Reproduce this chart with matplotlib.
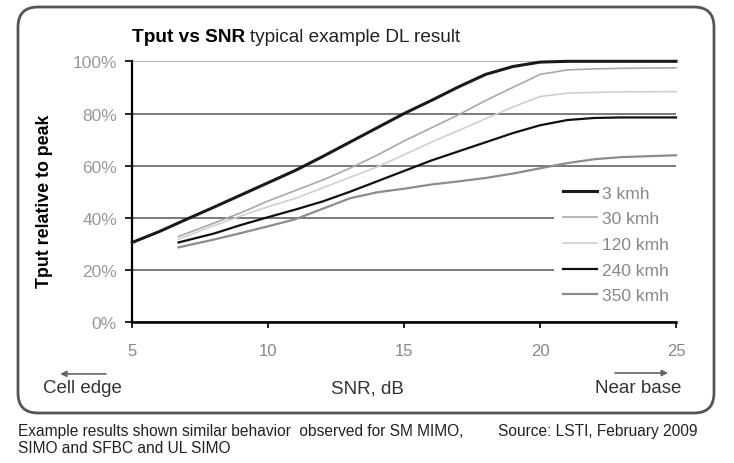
import matplotlib
matplotlib.use("Agg")
import matplotlib.pyplot as plt
from matplotlib.patches import FancyBboxPatch
from matplotlib.ticker import PercentFormatter

plt.rcParams['font.family'] = ['Liberation Sans', 'DejaVu Sans']

# SNR (dB) sample points
snr_3 = [5, 6, 7, 8, 9, 10, 11, 12, 13, 14, 15, 16, 17, 18, 19, 20, 21, 22, 23, 25]
tput_3 = [0.306, 0.348, 0.395, 0.441, 0.488, 0.535, 0.582, 0.635, 0.690, 0.745,
          0.800, 0.850, 0.902, 0.950, 0.980, 0.997, 1.0, 1.0, 1.0, 1.0]

snr = [6.7, 8, 9, 10, 11, 12, 13, 14, 15, 16, 17, 18, 19, 20, 21, 22, 23, 25]
tput_30 = [0.329, 0.380, 0.420, 0.465, 0.505, 0.545, 0.590, 0.640, 0.695, 0.745,
           0.795, 0.850, 0.900, 0.950, 0.967, 0.971, 0.973, 0.975]
tput_120 = [0.319, 0.370, 0.408, 0.443, 0.475, 0.515, 0.555, 0.595, 0.642, 0.690,
            0.735, 0.780, 0.825, 0.865, 0.878, 0.881, 0.883, 0.884]
tput_240 = [0.306, 0.340, 0.373, 0.403, 0.432, 0.463, 0.500, 0.540, 0.580, 0.620,
            0.655, 0.690, 0.725, 0.755, 0.775, 0.783, 0.785, 0.785]
tput_350 = [0.287, 0.317, 0.342, 0.368, 0.395, 0.435, 0.475, 0.498, 0.512, 0.528,
            0.540, 0.553, 0.570, 0.590, 0.610, 0.625, 0.633, 0.640]

labels = ['3 kmh', '30 kmh', '120 kmh', '240 kmh', '350 kmh']
colors = ['#1a1a1a', '#a8a8a8', '#cfcfcf', '#111111', '#8c8c8c']
widths = [2.2, 1.2, 1.2, 1.6, 1.6]

fig = plt.figure(figsize=(7.34, 4.64), dpi=100)

# rounded frame around the chart
frame = FancyBboxPatch((0.18, 0.50), 6.96, 4.06,
                       boxstyle='round,pad=0,rounding_size=0.2',
                       transform=fig.dpi_scale_trans, facecolor='white',
                       edgecolor='#555555', linewidth=2.0, zorder=0)
fig.add_artist(frame)

ax = fig.add_axes([0.1802, 0.3032, 0.7408, 0.5625])
ax.set_facecolor('none')

series = [(snr_3, tput_3), (snr, tput_30), (snr, tput_120), (snr, tput_240), (snr, tput_350)]
for (x, y), lab, c, w in zip(series, labels, colors, widths):
    ax.plot(x, y, color=c, lw=w, label=lab, clip_on=False, zorder=3)

ax.set_xlim(5, 25)
ax.set_ylim(0, 1.0)
ax.set_xticks([5, 10, 15, 20, 25])
ax.set_yticks([0, 0.2, 0.4, 0.6, 0.8, 1.0])
ax.yaxis.set_major_formatter(PercentFormatter(1.0, decimals=0))

ax.yaxis.grid(True, color='#555555', lw=1.1)
ax.get_ygridlines()[-1].set_color('#9a9a9a')
ax.set_axisbelow(True)

for s in ['top', 'right']:
    ax.spines[s].set_visible(False)
ax.spines['left'].set_linewidth(1.6)
ax.spines['bottom'].set_linewidth(1.8)
ax.tick_params(axis='y', direction='out', length=5, width=1.2, labelsize=12.5,
               labelcolor='#999999', pad=6)
ax.tick_params(axis='x', direction='out', length=4, width=1.2, labelsize=12,
               labelcolor='#888888', pad=11)

ax.set_ylabel('Tput relative to peak', fontsize=12.8, fontweight='bold')
ax.yaxis.set_label_coords(-0.145, 0.469)

leg = ax.legend(loc='upper left', bbox_to_anchor=(0.776, 0.558), frameon=True,
                facecolor='white', edgecolor='none', framealpha=1, fontsize=12.5,
                handlelength=1.95, handletextpad=0.28, labelspacing=0.61,
                borderpad=0.5, borderaxespad=0, labelcolor='#888888')
leg.set_zorder(4)

# title: bold part then normal part
t1 = fig.text(0.180, 0.920, 'Tput vs SNR', fontsize=13.7, fontweight='bold', va='center')
fig.canvas.draw()
bb = t1.get_window_extent()
fig.text(bb.x1 / fig.bbox.width + 0.006, 0.920, 'typical example DL result',
         fontsize=13.7, va='center', color='#222222')

# axis captions and arrows
fig.text(0.500, 0.162, 'SNR, dB', fontsize=13.5, ha='center', va='center', color='#333333')
fig.text(0.059, 0.162, 'Cell edge', fontsize=13.5, ha='left', va='center', color='#333333')
fig.text(0.928, 0.162, 'Near base', fontsize=13.5, ha='right', va='center', color='#333333')
fig.add_artist(plt.Annotation('', xy=(0.078, 0.192), xytext=(0.148, 0.192),
                              xycoords='figure fraction',
                              arrowprops=dict(arrowstyle='-|>', color='#666666', lw=1.2,
                                              mutation_scale=9)))
fig.add_artist(plt.Annotation('', xy=(0.914, 0.194), xytext=(0.834, 0.194),
                              xycoords='figure fraction',
                              arrowprops=dict(arrowstyle='-|>', color='#666666', lw=1.2,
                                              mutation_scale=9)))

# footnote
fig.text(0.025, 0.071, 'Example results shown similar behavior  observed for SM MIMO,',
         fontsize=11.2, va='center', color='#222222')
fig.text(0.679, 0.071, 'Source: LSTI, February 2009', fontsize=11.2, va='center', color='#222222')
fig.text(0.025, 0.034, 'SIMO and SFBC and UL SIMO', fontsize=11.2, va='center', color='#222222')

fig.savefig('out.png', dpi=100)
